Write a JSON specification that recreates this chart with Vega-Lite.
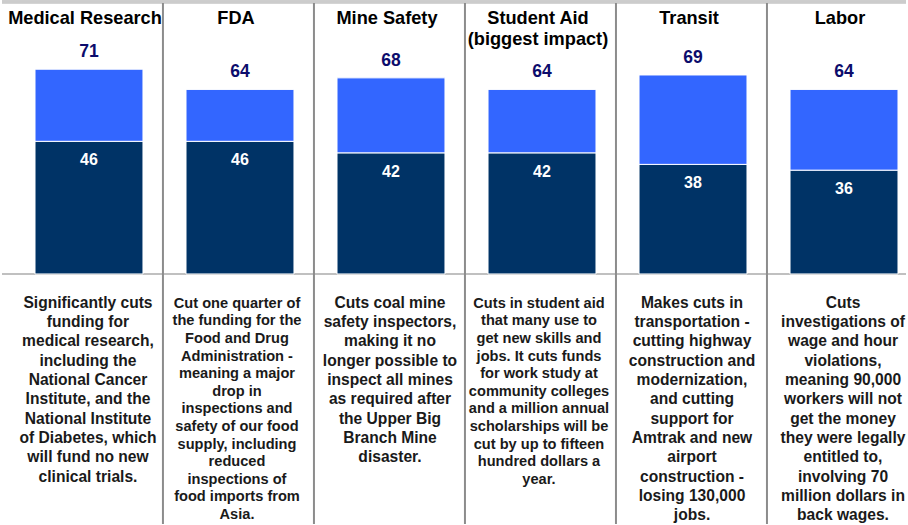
{
  "$schema": "https://vega.github.io/schema/vega-lite/v6.json",
  "width": 908,
  "height": 525,
  "autosize": {"type": "fit", "contains": "padding"},
  "padding": 0,
  "background": "#ffffff",
  "config": {
    "view": {"stroke": null}
  },
  "data": {
    "values": [
      {"cat": "Medical Research", "title": "Medical Research", "total": 71, "base": 46, "desc": "Significantly cuts\nfunding for\nmedical research,\nincluding the\nNational Cancer\nInstitute, and the\nNational Institute\nof Diabetes, which\nwill fund no new\nclinical trials.", "grp": "large"},
      {"cat": "FDA", "title": "FDA", "total": 64, "base": 46, "desc": "Cut one quarter of\nthe funding for the\nFood and Drug\nAdministration -\nmeaning a major\ndrop in\ninspections and\nsafety of our food\nsupply, including\nreduced\ninspections of\nfood imports from\nAsia.", "grp": "small"},
      {"cat": "Mine Safety", "title": "Mine Safety", "total": 68, "base": 42, "desc": "Cuts coal mine\nsafety inspectors,\nmaking it no\nlonger possible to\ninspect all mines\nas required after\nthe Upper Big\nBranch Mine\ndisaster.", "grp": "large"},
      {"cat": "Student Aid", "title": "Student Aid\n(biggest impact)", "total": 64, "base": 42, "desc": "Cuts in student aid\nthat  many use to\nget new skills and\njobs.  It cuts funds\nfor work study at\ncommunity colleges\nand a million annual\nscholarships will be\ncut by up to fifteen\nhundred dollars a\nyear.", "grp": "small"},
      {"cat": "Transit", "title": "Transit", "total": 69, "base": 38, "desc": "Makes cuts in\ntransportation -\ncutting highway\nconstruction and\nmodernization,\nand cutting\nsupport for\nAmtrak and new\nairport\nconstruction -\nlosing 130,000\njobs.", "grp": "large"},
      {"cat": "Labor", "title": "Labor", "total": 64, "base": 36, "desc": "Cuts\ninvestigations of\nwage and hour\nviolations,\nmeaning 90,000\nworkers will not\nget the money\nthey were legally\nentitled to,\ninvolving 70\nmillion dollars in\nback wages.", "grp": "large"}
    ]
  },
  "layer": [
    {
      "mark": {"type": "rule", "color": "#cccccc", "strokeWidth": 3},
      "encoding": {
        "y": {"datum": 94.4, "type": "quantitative", "scale": {"domain": [-86.7, 95], "nice": false, "zero": false}, "axis": null}
      }
    },
    {
      "mark": {"type": "rule", "color": "#c0c0c0", "strokeWidth": 2},
      "encoding": {
        "y": {"datum": 0, "type": "quantitative", "scale": {"domain": [-86.7, 95], "nice": false, "zero": false}, "axis": null}
      }
    },
    {
      "transform": [{"filter": "datum.cat !== 'Labor'"}],
      "mark": {"type": "rule", "color": "#8c8c8c", "strokeWidth": 2},
      "encoding": {
        "x": {"field": "cat", "type": "nominal", "sort": null, "bandPosition": 1.185, "axis": null,
              "scale": {"range": [11.5, 917.5], "paddingInner": 0.285, "paddingOuter": 0.1424}},
        "y": {"datum": 94, "type": "quantitative", "scale": {"domain": [-86.7, 95], "nice": false, "zero": false}, "axis": null},
        "y2": {"datum": -86.7}
      }
    },
    {
      "mark": {"type": "bar", "color": "#003366", "stroke": "#ffffff", "strokeWidth": 1},
      "encoding": {
        "x": {"field": "cat", "type": "nominal", "sort": null, "axis": null,
              "scale": {"range": [11.5, 917.5], "paddingInner": 0.285, "paddingOuter": 0.1424}},
        "y": {"field": "base", "type": "quantitative", "scale": {"domain": [-86.7, 95], "nice": false, "zero": false}, "axis": null},
        "y2": {"datum": 0}
      }
    },
    {
      "mark": {"type": "bar", "color": "#3366ff", "stroke": "#ffffff", "strokeWidth": 1},
      "encoding": {
        "x": {"field": "cat", "type": "nominal", "sort": null, "axis": null,
              "scale": {"range": [11.5, 917.5], "paddingInner": 0.285, "paddingOuter": 0.1424}},
        "y": {"field": "total", "type": "quantitative", "scale": {"domain": [-86.7, 95], "nice": false, "zero": false}, "axis": null},
        "y2": {"field": "base"}
      }
    },
    {
      "mark": {"type": "text", "color": "#0c0c6c", "font": "Liberation Sans", "fontWeight": "bold", "fontSize": 17.5, "baseline": "middle", "dy": -17},
      "encoding": {
        "x": {"field": "cat", "type": "nominal", "sort": null, "axis": null,
              "scale": {"range": [11.5, 917.5], "paddingInner": 0.285, "paddingOuter": 0.1424}},
        "y": {"field": "total", "type": "quantitative", "scale": {"domain": [-86.7, 95], "nice": false, "zero": false}, "axis": null},
        "text": {"field": "total", "type": "quantitative"}
      }
    },
    {
      "mark": {"type": "text", "color": "#ffffff", "font": "Liberation Sans", "fontWeight": "bold", "fontSize": 16, "baseline": "middle", "dy": 19},
      "encoding": {
        "x": {"field": "cat", "type": "nominal", "sort": null, "axis": null,
              "scale": {"range": [11.5, 917.5], "paddingInner": 0.285, "paddingOuter": 0.1424}},
        "y": {"field": "base", "type": "quantitative", "scale": {"domain": [-86.7, 95], "nice": false, "zero": false}, "axis": null},
        "text": {"field": "base", "type": "quantitative"}
      }
    },
    {
      "mark": {"type": "text", "color": "#000000", "font": "Liberation Sans", "fontWeight": "bold", "fontSize": 18.2, "baseline": "top", "lineHeight": 21.5, "lineBreak": "\n", "dx": -4},
      "encoding": {
        "x": {"field": "cat", "type": "nominal", "sort": null, "axis": null,
              "scale": {"range": [11.5, 917.5], "paddingInner": 0.285, "paddingOuter": 0.1424}},
        "y": {"datum": 91.6, "type": "quantitative", "scale": {"domain": [-86.7, 95], "nice": false, "zero": false}, "axis": null},
        "text": {"field": "title", "type": "nominal"}
      }
    },
    {
      "transform": [{"filter": "datum.grp === 'large'"}],
      "mark": {"type": "text", "color": "#1a1a1a", "font": "Liberation Sans", "fontWeight": "bold", "fontSize": 15.6, "baseline": "top", "lineHeight": 19.3, "lineBreak": "\n", "dx": -1},
      "encoding": {
        "x": {"field": "cat", "type": "nominal", "sort": null, "axis": null,
              "scale": {"range": [11.5, 917.5], "paddingInner": 0.285, "paddingOuter": 0.1424}},
        "y": {"datum": -7.6, "type": "quantitative", "scale": {"domain": [-86.7, 95], "nice": false, "zero": false}, "axis": null},
        "text": {"field": "desc", "type": "nominal"}
      }
    },
    {
      "transform": [{"filter": "datum.grp === 'small'"}],
      "mark": {"type": "text", "color": "#1a1a1a", "font": "Liberation Sans", "fontWeight": "bold", "fontSize": 14.6, "baseline": "top", "lineHeight": 17.6, "lineBreak": "\n", "dx": -3},
      "encoding": {
        "x": {"field": "cat", "type": "nominal", "sort": null, "axis": null,
              "scale": {"range": [11.5, 917.5], "paddingInner": 0.285, "paddingOuter": 0.1424}},
        "y": {"datum": -7.6, "type": "quantitative", "scale": {"domain": [-86.7, 95], "nice": false, "zero": false}, "axis": null},
        "text": {"field": "desc", "type": "nominal"}
      }
    }
  ]
}
